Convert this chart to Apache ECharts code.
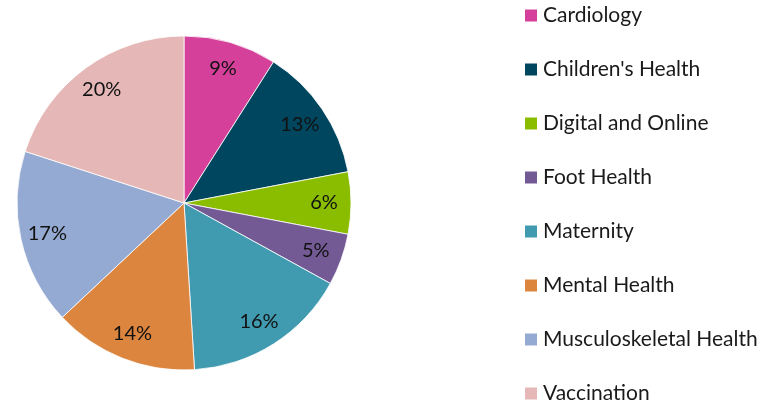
<!DOCTYPE html>
<html><head><meta charset="utf-8">
<script src="https://cdn.jsdelivr.net/npm/echarts@6/dist/echarts.min.js"></script>
<style>html,body{margin:0;padding:0;background:#fff}#c{width:771px;height:404px}</style>
</head><body><div id="c"></div>
<script>
const categories = ["Cardiology","Children's Health","Digital and Online","Foot Health","Maternity","Mental Health","Musculoskeletal Health","Vaccination"];
const values = [9,13,6,5,16,14,17,20];
const colors = ["#D5409A","#01465F","#8ABC00","#735A95","#409AB0","#DB853F","#95AAD2","#E5B7B7"];
const FONT = "Lato";
const data = categories.map((n,i)=>({name:n,value:values[i],itemStyle:{color:colors[i]}}));
const chart = echarts.init(document.getElementById('c'));
chart.setOption({
  animation:false,
  legend:{orient:'vertical',left:523,top:5,height:430,padding:0,itemWidth:14,itemHeight:14,itemGap:33,icon:'rect',
    textStyle:{fontFamily:FONT,fontSize:21,color:'#1a1a1a',lineHeight:20},data:categories},
  series:[
    {type:'pie',center:[184,203],radius:[0,167],startAngle:90,clockwise:true,
     itemStyle:{borderColor:'#fff',borderWidth:0.8},label:{show:false},labelLine:{show:false},data:data,silent:true},
    {type:'pie',center:[184,203],radius:[107,167],startAngle:90,clockwise:true,legendHoverLink:false,
     itemStyle:{color:'transparent'},labelLine:{show:false},
     label:{show:true,position:'inside',formatter:p=>p.value+'%',fontFamily:FONT,fontSize:20,color:'#111'},
     data:categories.map((n,i)=>({name:n+' ',value:values[i]})),silent:true}
  ]
});
</script></body></html>
